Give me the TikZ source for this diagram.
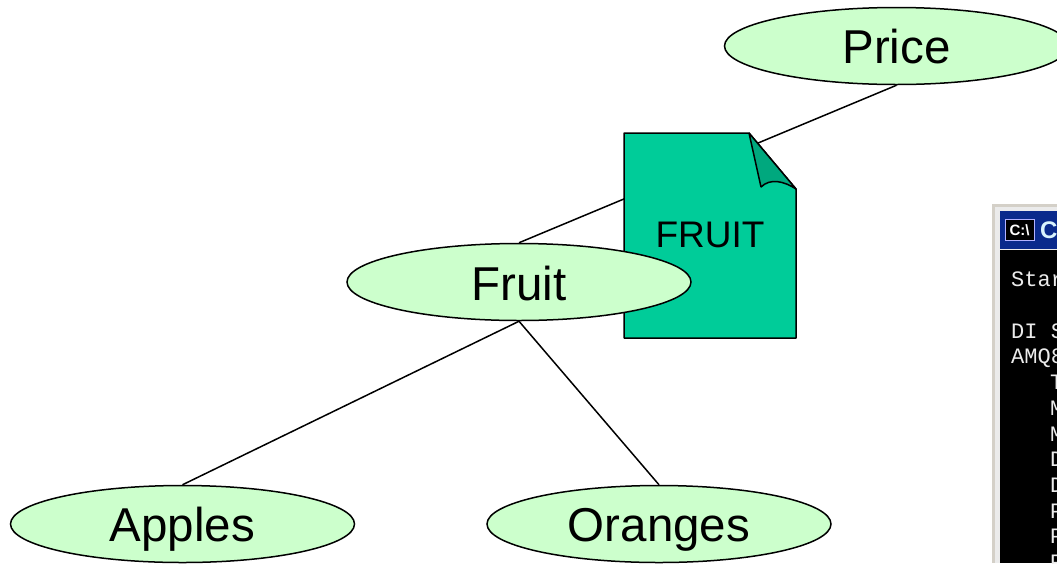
\documentclass[tikz,border=0pt]{standalone}
\usepackage{fontspec}
\setmainfont{Liberation Sans}
\newfontfamily\consolefont{Liberation Mono}
\usetikzlibrary{shapes.geometric,backgrounds}
\definecolor{ellfill}{HTML}{CCFFCC}
\definecolor{docfill}{HTML}{00CC99}
\definecolor{foldfill}{HTML}{00A87E}
\definecolor{titleblue}{HTML}{0A2A8C}
\definecolor{frameg}{HTML}{D4D0C8}
\tikzset{
  topic/.style={ellipse,draw=black,line width=1.5pt,fill=ellfill,minimum width=344pt,minimum height=77pt,inner sep=0pt,font=\fontsize{47.5}{47.5}\selectfont},
  link/.style={draw=black,line width=1.5pt},
  docline/.style={draw=black,line width=1.5pt,line join=bevel},
  console/.style={anchor=base west,inner sep=0pt,text=white!92!black,font=\consolefont\fontsize{22}{22}\selectfont},
}
\begin{document}
\begin{tikzpicture}[x=1pt,y=-1pt]
\clip (0,0) rectangle (1057,563);
% document
\path[docline,fill=docfill] (624,133) -- (749,133) -- (796,189) -- (796,338) -- (624,338) -- cycle;
\path[docline,fill=foldfill] (749,133) -- (796,189) .. controls (784,181) and (770,178) .. (761,187) -- cycle;
\node[font=\fontsize{37}{37}\selectfont,inner sep=0pt] (doc) at (710,235) {FRUIT};
% topics
\node[topic] (price) at (896.5,46) {\rule{0pt}{36pt}Price};
\node[topic] (fruit) at (519,282) {\rule{0pt}{38pt}Fruit};
\node[topic] (apples) at (182.5,524) {\rule{0pt}{44pt}Apples};
\node[topic] (oranges) at (659,524) {\rule{0pt}{44pt}Oranges};
\begin{scope}[on background layer]
\fill[white] (0,0) rectangle (1057,563);
\draw[link] (price.south) -- (fruit.north);
\draw[link] (fruit.south) -- (apples.north);
\draw[link] (fruit.south) -- (oranges.north);
\end{scope}
% console window
\fill[frameg] (992,204) rectangle (1057,563);
\fill[white!92!black] (995,207) rectangle (1057,563);
\fill[titleblue] (1000,211) rectangle (1057,249);
\fill[black] (1000,250) rectangle (1057,563);
\node[draw=white!70!blue,fill=black,text=white,line width=0.8pt,minimum width=29pt,minimum height=21pt,inner sep=0pt,font=\bfseries\fontsize{15}{15}\selectfont] (icon) at (1019.5,230) {C:\textbackslash};
\node[anchor=base west,inner sep=0pt,text=white!85!cyan,font=\bfseries\fontsize{24}{24}\selectfont] (title) at (1040,238) {Co};
\node[console] (l1) at (1011,286) {Star};
\node[console] (l2) at (1011,338) {DI S};
\node[console] (l3) at (1011,363) {AMQ8};
\node[console] (l4) at (1050,389) {T};
\node[console] (l5) at (1050,415) {M};
\node[console] (l6) at (1050,441) {M};
\node[console] (l7) at (1050,466) {D};
\node[console] (l8) at (1050,492) {D};
\node[console] (l9) at (1050,518) {P};
\node[console] (l10) at (1050,543) {P};
\node[console] (l11) at (1050,569) {P};
\end{tikzpicture}
\end{document}
